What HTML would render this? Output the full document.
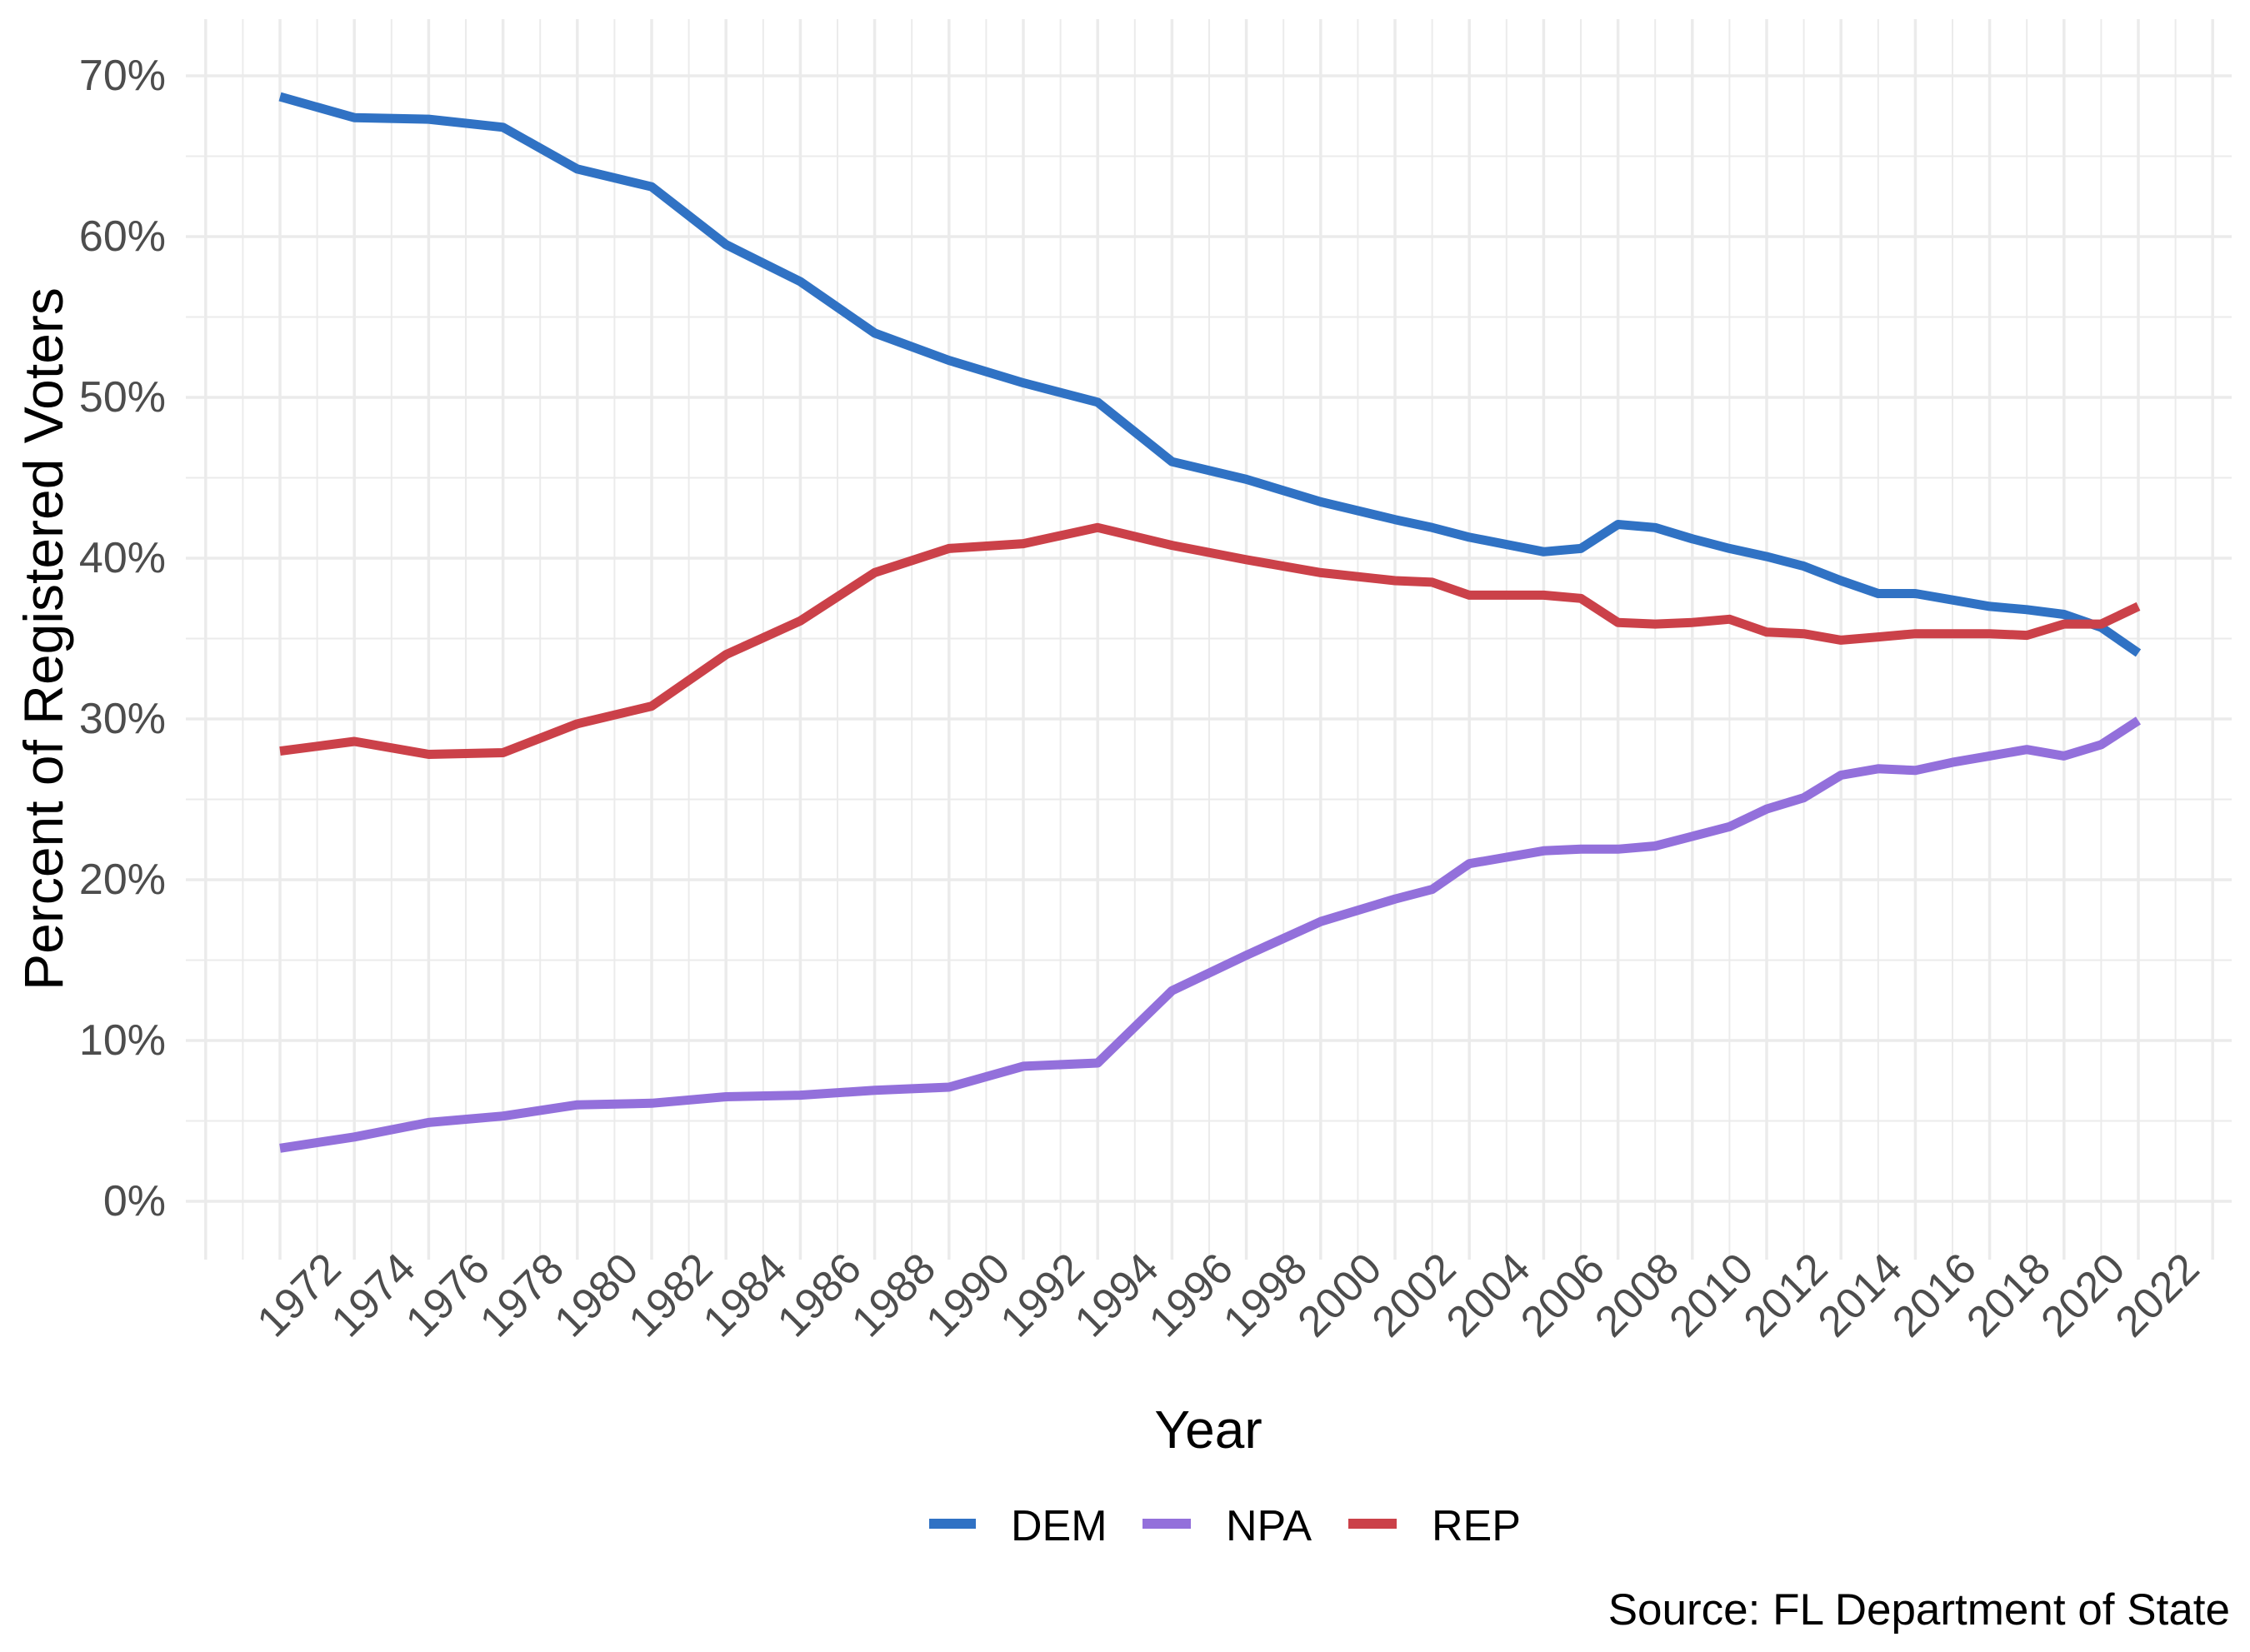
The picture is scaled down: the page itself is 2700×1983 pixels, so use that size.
<!DOCTYPE html>
<html><head><meta charset="utf-8"><title>Florida voter registration</title>
<style>html,body{margin:0;padding:0;background:#fff}svg{display:block}</style></head>
<body>
<svg id="chart" xmlns="http://www.w3.org/2000/svg" width="2700" height="1983" viewBox="0 0 2700 1983" font-family="'Liberation Sans', Arial, sans-serif">
<rect x="0" y="0" width="2700" height="1983" fill="#ffffff"/>
<g id="grid"></g>
<g id="yticks"></g>
<g id="xticks"></g>
<g id="series"></g>
<text x="52" y="767" transform="rotate(-90 52 767)" text-anchor="middle" dominant-baseline="central" font-size="66" fill="#000">Percent of Registered Voters</text>
<text x="1450" y="1738" text-anchor="middle" font-size="64" fill="#000">Year</text>
<g>
  <g>
    <line x1="1115" y1="1829" x2="1171" y2="1829" stroke="#3072c4" stroke-width="12"/>
    <text x="1213" y="1849" font-size="52" fill="#000">DEM</text>
  </g>
  <g>
    <line x1="1371" y1="1829" x2="1429" y2="1829" stroke="#9370db" stroke-width="12"/>
    <text x="1471" y="1849" font-size="52" fill="#000">NPA</text>
  </g>
  <g>
    <line x1="1618" y1="1829" x2="1676" y2="1829" stroke="#cb4149" stroke-width="12"/>
    <text x="1718" y="1849" font-size="52" fill="#000">REP</text>
  </g>
</g>
<text x="2676" y="1950" text-anchor="end" font-size="53" fill="#000">Source: FL Department of State</text>
</svg>
<script>
const years = [1972,1974,1976,1978,1980,1982,1984,1986,1988,1990,1992,1994,1996,1998,2000,2002,2003,2004,2006,2007,2008,2009,2010,2011,2012,2013,2014,2015,2016,2017,2018,2019,2020,2021,2022];
const demValues = [68.7,67.4,67.3,66.8,64.2,63.1,59.5,57.2,54.0,52.3,50.9,49.7,46.0,44.9,43.5,42.4,41.9,41.3,40.4,40.6,42.1,41.9,41.2,40.6,40.1,39.5,38.6,37.8,37.8,37.4,37.0,36.8,36.5,35.7,34.1];
const npaValues = [3.3,4.0,4.9,5.3,6.0,6.1,6.5,6.6,6.9,7.1,8.4,8.6,13.1,15.3,17.4,18.8,19.4,21.0,21.8,21.9,21.9,22.1,22.7,23.3,24.4,25.1,26.5,26.9,26.8,27.3,27.7,28.1,27.7,28.4,29.9];
const repValues = [28.0,28.6,27.8,27.9,29.7,30.8,34.0,36.1,39.1,40.6,40.9,41.9,40.8,39.9,39.1,38.6,38.5,37.7,37.7,37.5,36.0,35.9,36.0,36.2,35.4,35.3,34.9,35.1,35.3,35.3,35.3,35.2,35.9,35.9,37.0];
const yTickValues = [0,10,20,30,40,50,60,70];
const yTickLabels = ["0%","10%","20%","30%","40%","50%","60%","70%"];
const xTickYears = [1972,1974,1976,1978,1980,1982,1984,1986,1988,1990,1992,1994,1996,1998,2000,2002,2004,2006,2008,2010,2012,2014,2016,2018,2020,2022];

const NS = "http://www.w3.org/2000/svg";
const panel = {left:223, right:2678, top:23, bottom:1512};
function xScale(yr){ return 336 + (yr - 1972) * 44.6; }
function yScale(v){ return 1442 - v * 19.3; }
function mk(tag, attrs, parent){ const e = document.createElementNS(NS, tag); for (const k in attrs) e.setAttribute(k, attrs[k]); parent.appendChild(e); return e; }

const grid = document.getElementById('grid');
for (let v = 0; v <= 70; v += 5) {
  const major = v % 10 === 0;
  const ln = mk('line', {x1:panel.left, x2:panel.right, y1:yScale(v), y2:yScale(v), stroke:'#ebebeb', 'stroke-width': major ? 3.5 : 2}, grid);
  
  
}
for (let yr = 1970; yr <= 2024; yr++) {
  const major = yr % 2 === 0;
  const ln = mk('line', {x1:xScale(yr), x2:xScale(yr), y1:panel.top, y2:panel.bottom, stroke:'#ebebeb', 'stroke-width': major ? 3.5 : 2}, grid);
  
  
}

const yt = document.getElementById('yticks');
yTickValues.forEach((v, i) => {
  const t = mk('text', {x:199, y:yScale(v), 'text-anchor':'end', 'dominant-baseline':'central', 'font-size':52, fill:'#4d4d4d'}, yt);
  t.textContent = yTickLabels[i];
  
  
});

const xt = document.getElementById('xticks');
xTickYears.forEach(yr => {
  const ax = xScale(yr) + 76, ay = 1526;
  const t = mk('text', {x:ax, y:ay, 'text-anchor':'end', 'font-size':52, fill:'#4d4d4d', transform:`rotate(-45 ${ax} ${ay})`}, xt);
  t.textContent = String(yr);
  
  
});

const series = document.getElementById('series');
function drawLine(values, color, name){
  const d = values.map((v, i) => (i ? 'L' : 'M') + xScale(years[i]).toFixed(1) + ' ' + yScale(v).toFixed(1)).join(' ');
  const p = mk('path', {d:d, fill:'none', stroke:color, 'stroke-width':11, 'stroke-linejoin':'round'}, series);
  
  
}
drawLine(demValues, '#3072c4', 'dem-line');
drawLine(npaValues, '#9370db', 'npa-line');
drawLine(repValues, '#cb4149', 'rep-line');
</script>
</body></html>
